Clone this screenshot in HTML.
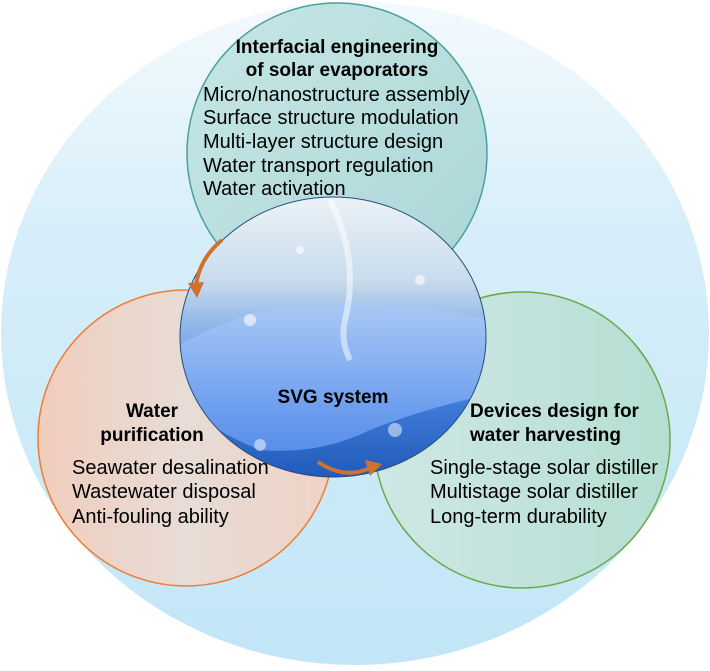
<!DOCTYPE html>
<html><head><meta charset="utf-8"><style>
body{margin:0;width:710px;height:666px;overflow:hidden;background:#fff;font-family:"Liberation Sans",Arial,sans-serif}
</style></head><body>
<svg width="710" height="666" viewBox="0 0 710 666" xmlns="http://www.w3.org/2000/svg" font-family="Liberation Sans, Arial, sans-serif">
<defs>
<linearGradient id="bg" x1="0" y1="0" x2="0" y2="1">
<stop offset="0" stop-color="#f4fafd"/><stop offset="0.35" stop-color="#d6eef9"/><stop offset="1" stop-color="#c2e6f7"/></linearGradient>
<linearGradient id="tealg" x1="0" y1="0" x2="1" y2="1">
<stop offset="0" stop-color="#c8e6e6"/><stop offset="1" stop-color="#a9d6d6"/></linearGradient>
<linearGradient id="orng" x1="0" y1="0" x2="1" y2="0">
<stop offset="0" stop-color="#f1cdbd"/><stop offset="0.5" stop-color="#e7dcd6"/><stop offset="1" stop-color="#efd2c6"/></linearGradient>
<linearGradient id="grng" x1="0" y1="0" x2="1" y2="0">
<stop offset="0" stop-color="#cfe7e4"/><stop offset="1" stop-color="#b5dfd3"/></linearGradient>
<linearGradient id="cen" x1="0" y1="0" x2="0" y2="1">
<stop offset="0" stop-color="#eef4f8"/><stop offset="0.3" stop-color="#c9dcec"/><stop offset="0.45" stop-color="#8fb7e8"/>
<stop offset="0.6" stop-color="#6d9ff0"/><stop offset="0.72" stop-color="#3f7ad8"/><stop offset="1" stop-color="#1a55b5"/></linearGradient>
<linearGradient id="foam" x1="0" y1="0" x2="0" y2="1">
<stop offset="0" stop-color="#a9c8f6"/><stop offset="1" stop-color="#5d93ee"/></linearGradient>
<clipPath id="cc"><ellipse cx="333" cy="337" rx="153" ry="140"/></clipPath>
</defs>
<ellipse cx="355" cy="333" rx="354" ry="332" fill="url(#bg)"/>
<circle cx="337" cy="153" r="150" fill="url(#tealg)" stroke="#4d9e9e" stroke-width="1.5"/>
<circle cx="186" cy="438" r="148" fill="url(#orng)" stroke="#ee7d31" stroke-width="1.5"/>
<circle cx="522" cy="440" r="148" fill="url(#grng)" stroke="#6aaa46" stroke-width="1.5"/>
<g clip-path="url(#cc)">
<rect x="170" y="190" width="330" height="300" fill="url(#cen)"/>
<path d="M180 345 Q260 300 330 305 Q420 300 486 320 L486 395 Q420 410 370 430 Q320 455 260 450 Q210 430 180 400 Z" fill="url(#foam)" opacity="0.9"/>
<path d="M330 200 Q360 260 345 320 Q340 340 350 360" stroke="#fff" stroke-width="6" fill="none" opacity="0.5"/>
<circle cx="250" cy="320" r="6" fill="#fff" opacity="0.6"/><circle cx="420" cy="280" r="5" fill="#fff" opacity="0.6"/>
<circle cx="300" cy="250" r="4" fill="#fff" opacity="0.6"/><circle cx="440" cy="230" r="5" fill="#fff" opacity="0.6"/>
<circle cx="260" cy="445" r="6" fill="#fff" opacity="0.5"/><circle cx="395" cy="430" r="7" fill="#fff" opacity="0.5"/>
</g>
<ellipse cx="333" cy="337" rx="153" ry="140" fill="none" stroke="#2a4a7a" stroke-width="1"/>
<path d="M222 240 Q200 258 196 285" stroke="#d2702e" stroke-width="4" fill="none"/>
<path d="M188 283 L197 298 L204 282 Z" fill="#d2702e"/>
<path d="M318 462 Q345 480 370 468" stroke="#d2702e" stroke-width="4" fill="none"/>
<path d="M365 460 L382 464 L370 476 Z" fill="#d2702e"/>
<g font-weight="bold" font-size="19" fill="#000" text-anchor="middle">
<text x="337" y="53">Interfacial engineering</text>
<text x="337" y="76">of solar evaporators</text>
<text x="333" y="403">SVG system</text>
<text x="152" y="417">Water</text>
<text x="152" y="441">purification</text>
</g>
<g font-weight="bold" font-size="19" fill="#000">
<text x="470" y="417">Devices design for</text>
<text x="470" y="441">water harvesting</text>
</g>
<g font-size="20" fill="#000">
<text x="203" y="101">Micro/nanostructure assembly</text>
<text x="203" y="124">Surface structure modulation</text>
<text x="203" y="148">Multi-layer structure design</text>
<text x="203" y="172">Water transport regulation</text>
<text x="203" y="195">Water activation</text>
<text x="72" y="474">Seawater desalination</text>
<text x="72" y="498">Wastewater disposal</text>
<text x="72" y="523">Anti-fouling ability</text>
<text x="430" y="474">Single-stage solar distiller</text>
<text x="430" y="498">Multistage solar distiller</text>
<text x="430" y="523">Long-term durability</text>
</g>
</svg>
</body></html>
